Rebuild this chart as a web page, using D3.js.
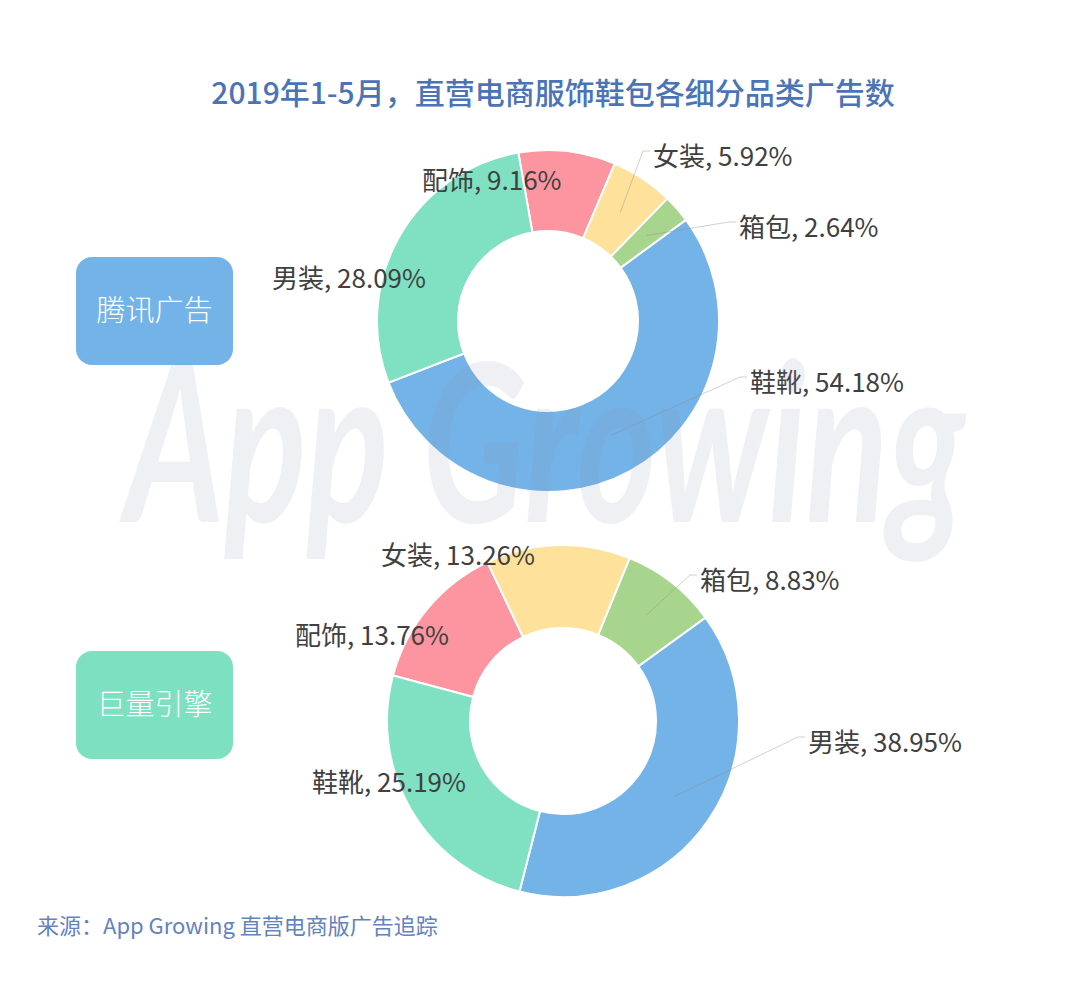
<!DOCTYPE html>
<html><head><meta charset="utf-8">
<script src="https://cdn.jsdelivr.net/npm/d3@7"></script>
<style>
html,body{margin:0;padding:0;background:#fff;}
svg{display:block;font-family:"Noto Sans CJK SC","Noto Sans",sans-serif;}
</style></head>
<body><svg id="c" width="1080" height="987"></svg>
<script>
// ---- data ----
const title = "2019年1-5月，直营电商服饰鞋包各细分品类广告数";
const source = "来源：App Growing 直营电商版广告追踪";
const topName = "腾讯广告";
const botName = "巨量引擎";
const topCats = ["配饰","女装","箱包","鞋靴","男装"];
const topVals = [9.16, 5.92, 2.64, 54.18, 28.09];
const botCats = ["配饰","女装","箱包","男装","鞋靴"];
const botVals = [13.76, 13.26, 8.83, 38.95, 25.19];

// ---- layout / style ----
const sliceColors = ["#fc95a0","#fee19b","#a8d58d","#74b3e8","#7fe0c2"];
const charts = [
  {cats: topCats, vals: topVals, name: topName, cx: 548, cy: 321, r0: 90, r1: 171, start: -10,
   box: {x: 76, y: 257, w: 157, h: 108, color: "#74b3e7"},
   labels: [[422,183],[653,159],[739,230],[750,385],[272,281]],
   lines: [false,true,true,true,false]},
  {cats: botCats, vals: botVals, name: botName, cx: 563, cy: 721, r0: 93, r1: 176, start: -75,
   box: {x: 76, y: 651, w: 157, h: 108, color: "#7de0c1"},
   labels: [[295,638],[381,558],[700,583],[808,745],[312,785]],
   lines: [false,false,true,true,false]}
];

const svg = d3.select("#c");

svg.append("text").attr("x", 553).attr("y", 96)
  .attr("text-anchor","middle").attr("dominant-baseline","middle")
  .attr("font-size", 30).attr("font-weight", 500).attr("fill", "#4b74b6")
  .text(title);

const fmt = v => d3.format(".2f")(v) + "%";

charts.forEach(ch => {
  const b = ch.box;
  svg.append("rect").attr("x", b.x).attr("y", b.y).attr("width", b.w).attr("height", b.h)
    .attr("rx", 16).attr("fill", b.color);
  svg.append("text").attr("x", b.x + b.w/2).attr("y", b.y + b.h/2 + 2)
    .attr("text-anchor","middle").attr("dominant-baseline","middle")
    .attr("font-size", 29).attr("font-weight", 300).attr("fill", "#fff")
    .text(ch.name);

  const s = ch.start * Math.PI / 180;
  const pie = d3.pie().sort(null).value(d => d).startAngle(s).endAngle(s + 2*Math.PI);
  const arcs = pie(ch.vals);
  const arc = d3.arc().innerRadius(ch.r0).outerRadius(ch.r1);
  const g = svg.append("g").attr("transform", `translate(${ch.cx},${ch.cy})`);
  g.selectAll("path").data(arcs).join("path")
    .attr("d", arc)
    .attr("fill", (d,i) => sliceColors[i])
    .attr("stroke", "#fff").attr("stroke-width", 2);

  arcs.forEach((d,i) => {
    const [lx, ly] = ch.labels[i];
    if (ch.lines[i]) {
      const c = arc.centroid(d);
      const p0 = [ch.cx + c[0], ch.cy + c[1]];
      const pts = [p0, [lx - 10, ly - 8], [lx - 3, ly - 8]];
      svg.append("path").attr("d", d3.line()(pts))
        .attr("fill","none").attr("stroke","#8a8a8a").attr("stroke-opacity",0.4).attr("stroke-width",1);
    }
    svg.append("text").attr("x", lx).attr("y", ly)
      .attr("dominant-baseline","middle")
      .attr("font-size", 26).attr("fill", "#404040")
      .text(ch.cats[i] + ", " + fmt(ch.vals[i]));
  });
});

// watermark
svg.append("text").attr("x", 125).attr("y", 522)
  .attr("font-family","Lato, 'Open Sans', sans-serif").attr("font-style","italic").attr("font-weight",700)
  .attr("font-size", 220).attr("textLength", 840).attr("lengthAdjust","spacingAndGlyphs")
  .attr("fill", "#8e96ae").attr("fill-opacity", 0.14)
  .text("App Growing");

svg.append("text").attr("x", 37).attr("y", 928)
  .attr("dominant-baseline","middle")
  .attr("font-size", 22).attr("fill", "#6283bd")
  .text(source);
</script></body></html>
